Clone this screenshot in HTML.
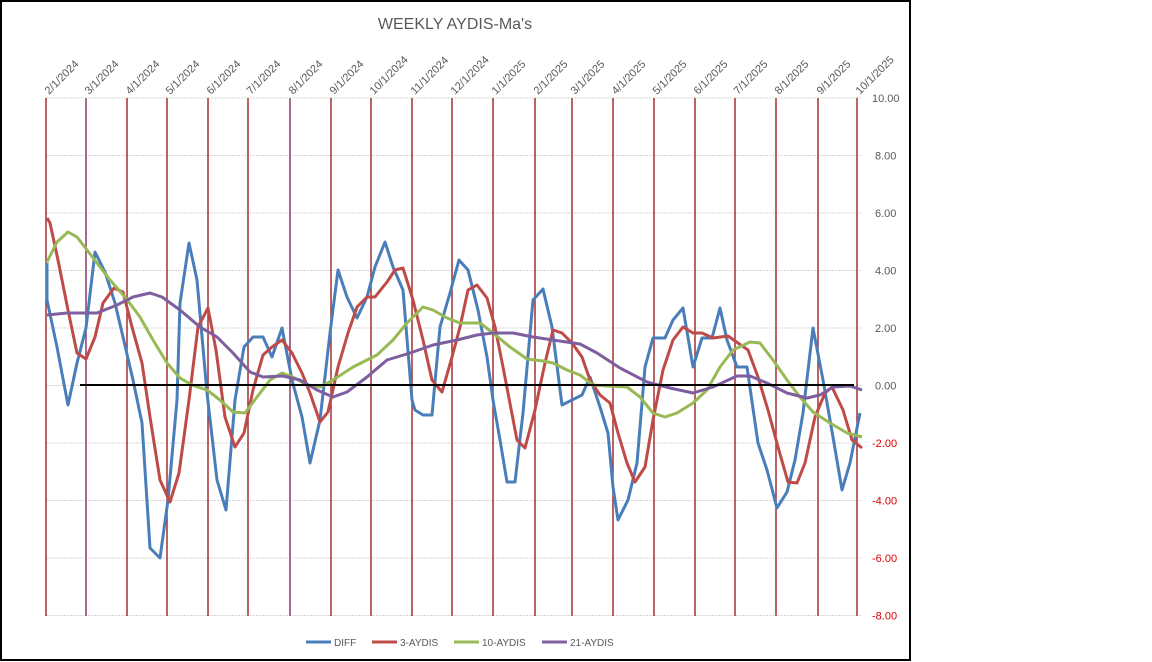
<!DOCTYPE html>
<html><head><meta charset="utf-8"><style>
html,body{margin:0;padding:0;background:#fff;}
svg{display:block;font-family:"Liberation Sans",sans-serif;}
</style></head><body>
<svg width="1152" height="662" viewBox="0 0 1152 662" xmlns="http://www.w3.org/2000/svg">
<rect x="0" y="0" width="1152" height="662" fill="#fff"/>
<rect x="1" y="1" width="909" height="659" fill="#fff" stroke="#000" stroke-width="2"/>
<text x="455" y="29" font-size="16" fill="#595959" text-anchor="middle">WEEKLY AYDIS-Ma's</text>
<g stroke="#d4d4d4" stroke-width="1" stroke-dasharray="2,1">
<line x1="46" x2="862" y1="98" y2="98"/><line x1="46" x2="862" y1="155.5" y2="155.5"/>
<line x1="46" x2="862" y1="213" y2="213"/><line x1="46" x2="862" y1="270.5" y2="270.5"/>
<line x1="46" x2="862" y1="328" y2="328"/><line x1="46" x2="862" y1="385.5" y2="385.5"/>
<line x1="46" x2="862" y1="443" y2="443"/><line x1="46" x2="862" y1="500.5" y2="500.5"/>
<line x1="46" x2="862" y1="558" y2="558"/><line x1="46" x2="862" y1="615.5" y2="615.5"/>
</g>
<g stroke="#a33033" stroke-width="1.5">
<line x1="46" x2="46" y1="98" y2="616"/><line x1="86" x2="86" y1="98" y2="616" stroke="#8a3a6a"/>
<line x1="127" x2="127" y1="98" y2="616"/><line x1="167" x2="167" y1="98" y2="616"/>
<line x1="208" x2="208" y1="98" y2="616"/><line x1="248" x2="248" y1="98" y2="616"/>
<line x1="290" x2="290" y1="98" y2="616" stroke="#8a3a6a"/><line x1="331" x2="331" y1="98" y2="616"/>
<line x1="371" x2="371" y1="98" y2="616"/><line x1="412" x2="412" y1="98" y2="616"/>
<line x1="452" x2="452" y1="98" y2="616"/><line x1="493" x2="493" y1="98" y2="616"/>
<line x1="535" x2="535" y1="98" y2="616"/><line x1="572" x2="572" y1="98" y2="616"/>
<line x1="613" x2="613" y1="98" y2="616"/><line x1="654" x2="654" y1="98" y2="616"/>
<line x1="695" x2="695" y1="98" y2="616"/><line x1="735" x2="735" y1="98" y2="616"/>
<line x1="776" x2="776" y1="98" y2="616"/><line x1="818" x2="818" y1="98" y2="616"/>
<line x1="857" x2="857" y1="98" y2="616"/>
</g>
<g font-size="11" fill="#595959" text-anchor="start">
<text transform="translate(49,95) rotate(-45)">2/1/2024</text>
<text transform="translate(89,95) rotate(-45)">3/1/2024</text>
<text transform="translate(130,95) rotate(-45)">4/1/2024</text>
<text transform="translate(170,95) rotate(-45)">5/1/2024</text>
<text transform="translate(211,95) rotate(-45)">6/1/2024</text>
<text transform="translate(251,95) rotate(-45)">7/1/2024</text>
<text transform="translate(293,95) rotate(-45)">8/1/2024</text>
<text transform="translate(334,95) rotate(-45)">9/1/2024</text>
<text transform="translate(374,95) rotate(-45)">10/1/2024</text>
<text transform="translate(415,95) rotate(-45)">11/1/2024</text>
<text transform="translate(455,95) rotate(-45)">12/1/2024</text>
<text transform="translate(496,95) rotate(-45)">1/1/2025</text>
<text transform="translate(538,95) rotate(-45)">2/1/2025</text>
<text transform="translate(575,95) rotate(-45)">3/1/2025</text>
<text transform="translate(616,95) rotate(-45)">4/1/2025</text>
<text transform="translate(657,95) rotate(-45)">5/1/2025</text>
<text transform="translate(698,95) rotate(-45)">6/1/2025</text>
<text transform="translate(738,95) rotate(-45)">7/1/2025</text>
<text transform="translate(779,95) rotate(-45)">8/1/2025</text>
<text transform="translate(821,95) rotate(-45)">9/1/2025</text>
<text transform="translate(860,95) rotate(-45)">10/1/2025</text>
</g>
<g font-size="11" text-anchor="start">
<text x="872" y="102" fill="#595959">10.00</text>
<text x="875" y="159.5" fill="#595959">8.00</text>
<text x="875" y="217" fill="#595959">6.00</text>
<text x="875" y="274.5" fill="#595959">4.00</text>
<text x="875" y="332" fill="#595959">2.00</text>
<text x="875" y="389.5" fill="#595959">0.00</text>
<text x="872" y="447" fill="#e00000">-2.00</text>
<text x="872" y="504.5" fill="#e00000">-4.00</text>
<text x="872" y="562" fill="#e00000">-6.00</text>
<text x="872" y="619.5" fill="#e00000">-8.00</text>
</g>
<g fill="none" stroke-width="3" stroke-linejoin="round">
<polyline stroke="#4a7ebb" points="47,263 47,300 57,347 68,405 77,363 86,328 95,252 105,272 115,303 123,337 133,380 142,423 150,548 160,558 168,500 177,400 180,303 189,243 197,280 207,393 217,480 226,510 235,400 244,347 253,337 263,337 272,357 282,328 292,380 302,417 310,463 320,420 330,333 338,270 347,297 357,318 367,297 375,267 385,242 393,267 403,290 412,400 415,410 423,415 432,415 440,327 450,293 459,260 468,270 478,310 487,357 493,400 500,440 507,482 515,482 523,413 533,300 543,289 552,327 562,405 572,400 582,395 590,377 600,407 608,433 613,487 618,520 628,500 637,463 645,367 653,338 665,338 673,320 683,308 693,367 702,338 712,338 720,308 727,340 737,367 747,367 758,443 767,470 777,508 787,492 795,460 803,413 813,328 823,380 833,437 842,490 850,463 860,413"/>
<polyline stroke="#be4b48" points="47,218 50,223 58,260 68,310 77,353 86,359 95,337 103,303 114,288 123,292 132,327 142,363 150,417 160,480 170,502 179,473 189,400 198,327 208,308 216,350 225,417 235,447 244,433 253,390 263,355 272,347 282,340 292,353 302,373 310,393 320,422 328,412 338,367 348,333 357,307 367,297 375,297 387,282 395,270 403,268 413,300 423,340 432,380 442,392 452,357 460,327 468,290 477,285 487,298 495,327 503,367 517,440 525,448 535,410 545,363 553,330 562,333 572,343 582,357 590,380 600,395 610,403 618,433 627,463 635,482 645,467 653,420 663,370 673,340 683,327 693,333 702,333 713,338 728,336 738,343 748,350 758,377 768,410 778,447 788,482 797,483 805,463 815,417 825,393 832,387 843,410 852,440 862,448"/>
<polyline stroke="#98b954" points="47,262 57,242 68,232 77,237 87,250 97,263 110,280 125,297 140,317 153,340 167,363 180,378 192,385 207,390 220,400 233,412 245,413 257,397 270,380 282,373 293,377 307,385 320,387 333,380 353,367 377,355 393,340 407,323 423,307 433,310 447,318 460,323 480,323 493,333 510,347 527,359 543,361 553,363 567,370 580,375 593,385 607,386 627,387 640,397 653,413 665,417 677,413 693,403 707,390 720,367 733,350 750,342 760,343 773,360 787,380 800,397 813,412 830,423 847,433 862,437"/>
<polyline stroke="#7d5fa0" points="47,315 67,313 97,313 117,305 133,297 150,293 162,297 180,310 200,327 217,337 233,353 250,372 263,377 283,376 300,380 317,390 333,397 347,392 367,377 387,360 410,353 433,345 457,340 477,335 493,333 513,333 533,337 553,340 580,344 597,353 620,368 647,382 670,388 693,393 713,387 737,376 750,376 767,383 787,393 807,398 820,395 833,387 850,386 862,390"/>
</g>
<line x1="80" x2="854" y1="385" y2="385" stroke="#000" stroke-width="2"/>
<g font-size="10" fill="#595959">
<line x1="306" x2="331" y1="642" y2="642" stroke="#4a7ebb" stroke-width="3"/><text x="334" y="646">DIFF</text>
<line x1="372" x2="397" y1="642" y2="642" stroke="#be4b48" stroke-width="3"/><text x="400" y="646">3-AYDIS</text>
<line x1="454" x2="479" y1="642" y2="642" stroke="#98b954" stroke-width="3"/><text x="482" y="646">10-AYDIS</text>
<line x1="542" x2="567" y1="642" y2="642" stroke="#7d5fa0" stroke-width="3"/><text x="570" y="646">21-AYDIS</text>
</g>
</svg>
</body></html>
